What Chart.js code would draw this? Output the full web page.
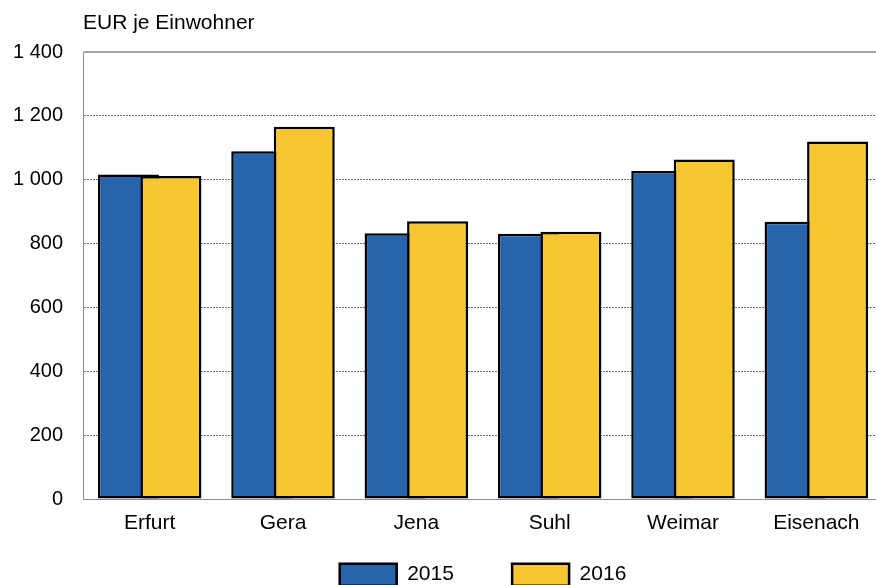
<!DOCTYPE html>
<html>
<head>
<meta charset="utf-8">
<script src="https://cdn.jsdelivr.net/npm/chart.js@4/dist/chart.umd.min.js"></script>
<style>
  html, body { margin: 0; padding: 0; background: #ffffff; overflow: hidden; }
  #wrap { width: 883px; height: 585px; }
  canvas { display: block; }
</style>
</head>
<body>
<div id="wrap"><canvas id="c" width="883" height="585"></canvas></div>
<script>
const categories = ['Erfurt', 'Gera', 'Jena', 'Suhl', 'Weimar', 'Eisenach'];
const seriesNames = ['2015', '2016'];
const values2015 = [1016, 1089, 832, 831, 1027, 868];
const values2016 = [1012, 1166, 870, 837, 1063, 1120];
const yTickValues = [0, 200, 400, 600, 800, 1000, 1200, 1400];
const yTitle = 'EUR je Einwohner';

const FONT = "'Liberation Sans', Arial, sans-serif";

function fmt(v) {
  if (v >= 1000) return Math.floor(v / 1000) + ' ' + String(v % 1000).padStart(3, '0');
  return String(v);
}

// draw datasets in index order so the 2016 bars overlap the 2015 bars
const drawInOrder = {
  id: 'drawInOrder',
  beforeDatasetsDraw(chart) {
    const metas = chart.getSortedVisibleDatasetMetas();
    for (const m of metas) {
      if (typeof chart._drawDataset === 'function') chart._drawDataset(m);
      else m.controller.draw();
    }
    return false;
  }
};

Chart.defaults.font.family = FONT;
Chart.defaults.color = '#000000';

new Chart(document.getElementById('c'), {
  type: 'bar',
  data: {
    labels: categories,
    datasets: [
      {
        label: seriesNames[0],
        data: values2015,
        backgroundColor: '#2864AC',
        borderColor: '#000000',
        borderWidth: 2.5,
        borderSkipped: false
      },
      {
        label: seriesNames[1],
        data: values2016,
        backgroundColor: '#F8C630',
        borderColor: '#000000',
        borderWidth: 2.5,
        borderSkipped: false
      }
    ]
  },
  options: {
    responsive: false,
    animation: false,
    devicePixelRatio: 1,
    categoryPercentage: 0.6375,
    barPercentage: 1.435,
    layout: { padding: 0 },
    scales: {
      x: {
        grid: { display: false, drawTicks: false },
        border: { display: true, color: '#8c8c8c', width: 1 },
        ticks: { font: { size: 21 }, mirror: true, padding: -36.6, color: '#000', autoSkip: false, maxRotation: 0 },
        afterFit(scale) { scale.height = 6.5; }
      },
      y: {
        min: 0,
        max: 1400,
        afterBuildTicks(scale) { scale.ticks = yTickValues.map(v => ({ value: v })); },
        grid: {
          drawTicks: false,
          color(ctx) {
            if (!ctx.tick) return '#707070';
            if (ctx.tick.value === 0) return 'rgba(0,0,0,0)';
            if (ctx.tick.value === 1400) return '#a6a6a6';
            return '#707070';
          },
          lineWidth(ctx) {
            return ctx.tick && ctx.tick.value === 1400 ? 2 : 1;
          }
        },
        border: {
          display: true,
          color: '#8c8c8c',
          width: 1,
          dash(ctx) { return ctx.tick && ctx.tick.value !== 1400 ? [2, 1] : []; }
        },
        ticks: {
          font: { size: 20 },
          padding: 20,
          color: '#000',
          callback(v) { return fmt(v); }
        },
        afterFit(scale) { scale.width = 83; }
      }
    },
    plugins: {
      title: {
        display: true,
        text: yTitle,
        align: 'start',
        fullSize: false,
        color: '#000',
        font: { size: 21, weight: 'normal' },
        padding: { top: 11, bottom: 15.8 }
      },
      legend: {
        display: true,
        position: 'bottom',
        fullSize: false,
        maxHeight: 79.5,
        labels: {
          boxWidth: 57,
          boxHeight: 22,
          padding: 58.2,
          color: '#000',
          font: { size: 21 }
        }
      },
      tooltip: { enabled: false }
    }
  },
  plugins: [drawInOrder]
});
</script>
</body>
</html>
